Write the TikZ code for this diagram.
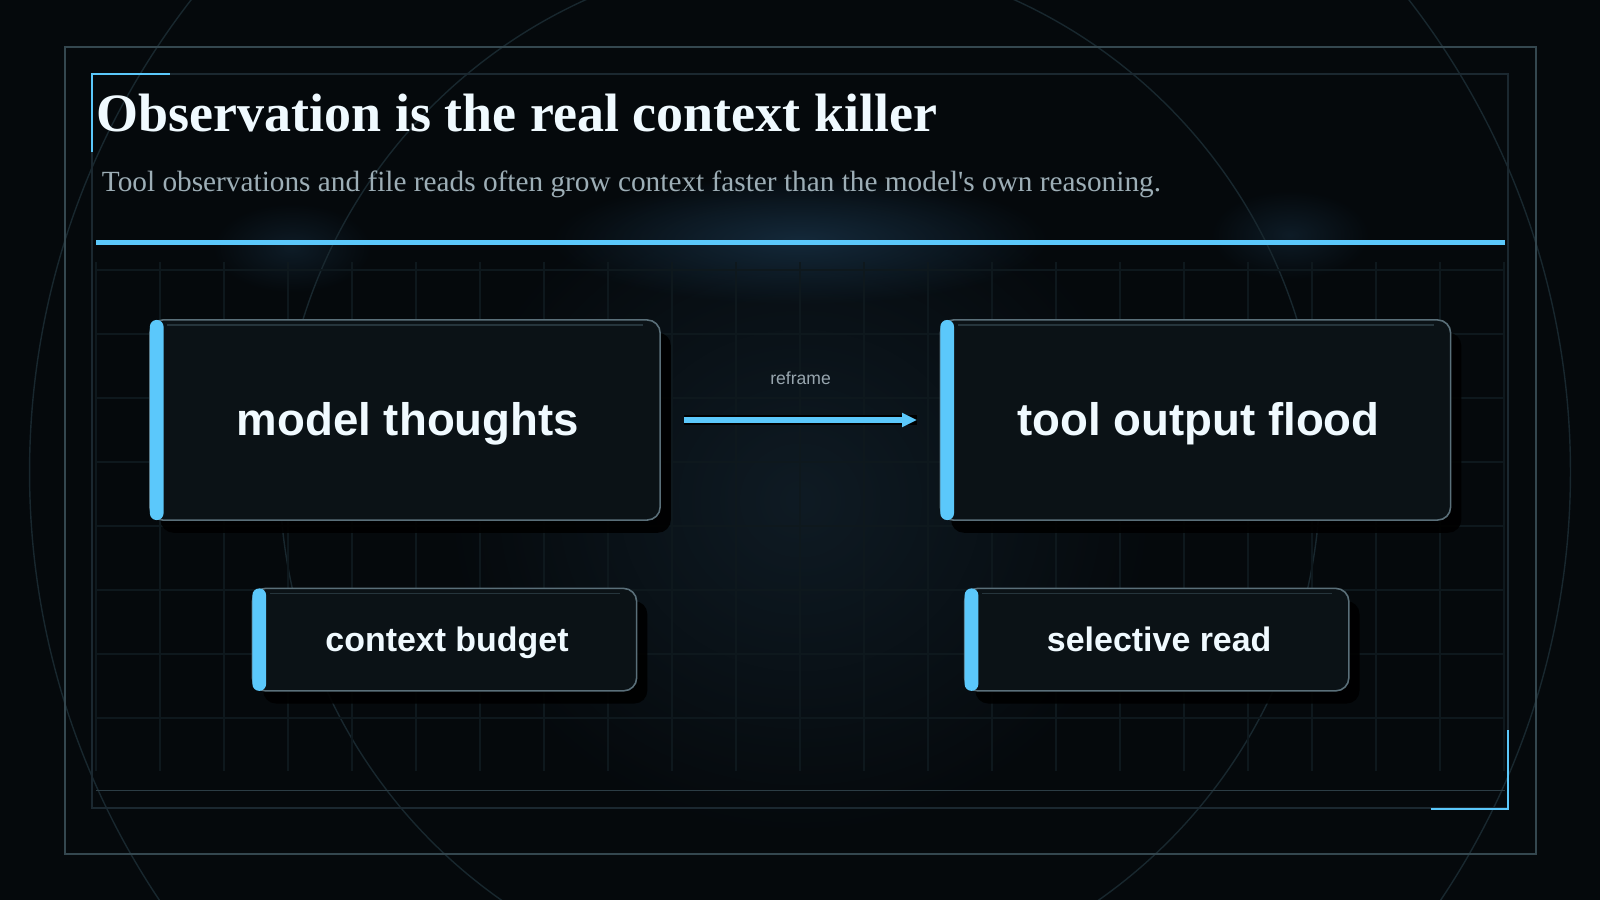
\documentclass[tikz,border=0pt]{standalone}
\usepackage{fontspec}
\setmainfont{Liberation Serif}
\newfontfamily\cardfont{Liberation Sans}
\usetikzlibrary{positioning,shadows,arrows.meta,fadings}

\definecolor{bg}{HTML}{05090C}
\definecolor{sky}{HTML}{5BC8FB}
\definecolor{cardfill}{HTML}{0B1216}
\definecolor{cardedge}{HTML}{5A6F79}
\definecolor{glossc}{HTML}{26353C}
\definecolor{frameout}{HTML}{34474F}
\definecolor{framein}{HTML}{1B2830}
\definecolor{rulec}{HTML}{2C3D45}
\definecolor{gridc}{HTML}{0E181D}
\definecolor{ringc}{HTML}{18272E}
\definecolor{halo}{HTML}{14293A}
\definecolor{halosoft}{HTML}{0E1C27}
\definecolor{glowc}{HTML}{0F1B24}
\definecolor{subc}{HTML}{9DAEB6}
\definecolor{labelc}{HTML}{98A6AE}
\definecolor{ink}{HTML}{F0FAFF}

\tikzfading[name=softglow,inner color=transparent!0,outer color=transparent!100]

\begin{document}
\begin{tikzpicture}[x=0.01cm,y=-0.01cm,
        card/.style={rectangle,rounded corners=0.13cm,draw=cardedge,line width=0.45pt,fill=cardfill,
            inner sep=0pt,outer sep=0pt,minimum width=5.1cm,minimum height=2cm,text=ink,
            font=\cardfont\bfseries\fontsize{12.97pt}{15pt}\selectfont,text height=11.74pt,text depth=2.75pt,
            drop shadow={shadow xshift=0.107cm,shadow yshift=-0.127cm,fill=black,opacity=0.9}},
        chip/.style={card,minimum width=3.84cm,minimum height=1.024cm,
            font=\cardfont\bfseries\fontsize{9.65pt}{12pt}\selectfont,text height=8.73pt,text depth=2.05pt},
        bar/.style={fill=sky,rounded corners=0.068cm},
        shine/.style={draw=glossc,line width=0.4pt},
        flow/.style={draw=sky,line width=1.5pt,-{Triangle[length=0.15cm,width=0.134cm]},
            preaction={draw=black,line width=3.1pt,-}},
        accent/.style={draw=sky,line width=0.77pt},
        gridline/.style={draw=gridc,line width=0.3pt},
        ring/.style={draw=ringc,line width=0.4pt},
        glow/.style={fill=#1,path fading=softglow}]
        \useasboundingbox (0,0) rectangle (1600,900);
        \clip (0,0) rectangle (1600,900);
        \fill[bg] (0,0) rectangle (1600,900);

        % soft glows
        \fill[glow=glowc] (800,500) ellipse (3.6cm and 3.4cm);
        \fill[glow=halo] (800,240) ellipse (2.5cm and 0.65cm);
        \fill[glow=halosoft] (292,248) ellipse (0.8cm and 0.45cm);
        \fill[glow=halosoft] (1290,235) ellipse (0.8cm and 0.45cm);

        \draw[ring] (800,472) circle (7.7cm);
        \draw[ring] (800,474) circle (5.2cm);

        \foreach \i in {0,...,22}
            \draw[gridline] (96+64*\i,262) -- (96+64*\i,771);
        \foreach \j in {0,...,7}
            \draw[gridline] (96,270+64*\j) -- (1504,270+64*\j);

        % frames
        \draw[frameout,line width=0.43pt] (65,47) rectangle (1536,854);
        \draw[framein,line width=0.37pt] (92,74) rectangle (1508,808);
        \draw[rulec,line width=0.37pt] (96,790.7) -- (1505,790.7);
        \draw[accent] (92,152.3) -- (92,74) -- (170.4,74);
        \draw[accent] (1508,730) -- (1508,809) -- (1430.6,809);
        \draw[sky,line width=1.28pt] (96,242.3) -- (1505,242.3);

        \node[anchor=base west,inner sep=0pt,text=ink,font=\bfseries\fontsize{15.36pt}{18pt}\selectfont] (t) at (96,131.7) {Observation is the real context killer};
        \node[anchor=base west,inner sep=0pt,text=subc,font=\fontsize{8.33pt}{10pt}\selectfont] (s) at (101.2,191) {Tool observations and file reads often grow context faster than the model\textquotesingle s own reasoning.};

        \node[card] (a) at (405,420) {\hspace*{0.06cm}model thoughts};
        \node[card] (b) [right=2.8cm of a] {\hspace*{0.06cm}tool output flood};
        \node[chip] (c) [below right=0.683cm and 1.025cm of a.south west] {\hspace*{0.05cm}context budget};
        \node[chip] (d) [below right=0.683cm and 0.243cm of b.south west] {\hspace*{0.05cm}selective read};

        \foreach \n in {a,b,c,d}{
            \fill[bar] (\n.north west) rectangle ([xshift=0.137cm]\n.south west);
            \draw[shine] ([xshift=0.175cm,yshift=-0.05cm]\n.north west) -- ([xshift=-0.17cm,yshift=-0.05cm]\n.north east);
        }

        \draw[flow] ([xshift=0.24cm]a.east) -- ([xshift=-0.233cm]b.west)
            node[midway,above=0.33cm,inner sep=0pt,text=labelc,font=\cardfont\fontsize{5pt}{6pt}\selectfont] (r) {reframe};
    \end{tikzpicture}
\end{document}
